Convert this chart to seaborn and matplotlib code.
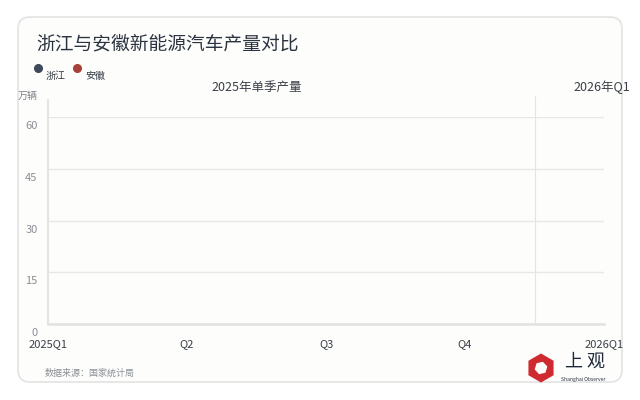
import matplotlib
matplotlib.use("Agg")
import matplotlib.pyplot as plt
import matplotlib.transforms as mtransforms
from matplotlib.patches import FancyBboxPatch, RegularPolygon
from matplotlib.lines import Line2D
import pandas as pd
import seaborn as sns

# chart data (no series values are visible in the reference frame)
quarters = ["2025Q1", "Q2", "Q3", "Q4", "2026Q1"]
series_names = ["浙江", "安徽"]
series_colors = ["#3e4a5b", "#a8403b"]
zhejiang_values = []
anhui_values = []
y_ticks = [0, 15, 30, 45, 60]

TITLE = "浙江与安徽新能源汽车产量对比"
SOURCE = "数据来源：国家统计局"

W, H = 640, 400


def px(x, y):
    return x / W, 1 - y / H


sns.set_theme(style="white")
plt.rcParams["font.family"] = ["Noto Sans CJK SC", "DejaVu Sans"]

fig = plt.figure(figsize=(6.4, 4.0), dpi=100, facecolor="white")

# pixel coords (origin top-left) -> figure
pix = mtransforms.Affine2D().scale(1 / W, -1 / H).translate(0, 1) + fig.transFigure

# card background
card = FancyBboxPatch((18, 17), 604, 365,
                      boxstyle="round,pad=0,rounding_size=12",
                      transform=pix, facecolor="#fdfdfb",
                      edgecolor="#e3e3e3", linewidth=1.2, zorder=-5)
fig.patches.append(card)

fig.text(*px(36, 44), TITLE, fontsize=13.5, color="#2b3340", va="center", ha="left")

# legend
for i, (name, col) in enumerate(zip(series_names, series_colors)):
    dx = 39 * i
    fig.add_artist(Line2D([38 + dx], [68], marker="o", markersize=5.5, color=col,
                          linestyle="none", transform=pix))
    fig.text(*px(46 + dx, 76), name, fontsize=7.2, color="#333a44", va="center", ha="left")

# plot area
left, right, top, bottom = 48, 604, 117, 324
ax = fig.add_axes([left / W, 1 - bottom / H, (right - left) / W, (bottom - top) / H])
ax.set_facecolor("none")

long_rows = []
for name, vals in zip(series_names, [zhejiang_values, anhui_values]):
    for q, v in zip(quarters, vals):
        long_rows.append({"quarter": q, "value": v, "series": name})
df = pd.DataFrame(long_rows, columns=["quarter", "value", "series"])
if len(df):
    sns.lineplot(data=df, x="quarter", y="value", hue="series",
                 palette=series_colors, ax=ax, legend=False)

ax.set_xlim(0, len(quarters) - 1)
ax.set_ylim(0, 60)
ax.set_xlabel("")
ax.set_ylabel("")

ax.set_yticks(y_ticks)
ax.set_yticklabels([str(v) for v in y_ticks], fontsize=8, color="#8a8f96")
ax.yaxis.grid(True, color="#e8e8e8", linewidth=1)
ax.set_axisbelow(True)
ax.tick_params(axis="y", length=0, pad=7.5)
ax.tick_params(axis="x", length=0, pad=11)
off = mtransforms.ScaledTranslation(0, -8 / 100, fig.dpi_scale_trans)
for lbl in ax.get_yticklabels():
    lbl.set_transform(lbl.get_transform() + off)

ax.set_xticks(range(len(quarters)))
ax.set_xticklabels(quarters, fontsize=8, color="#3a3f48")

for side in ["top", "right", "left"]:
    ax.spines[side].set_visible(False)
ax.spines["bottom"].set_color("#e2e2e2")
ax.spines["bottom"].set_linewidth(1.8)

# left axis line and 2026 separator, extending above the plot area
ax.axvline(0, ymin=0, ymax=(bottom - 100) / (bottom - top), color="#e4e4e4",
           linewidth=1.5, clip_on=False)
ax.axvline(3.5, ymin=0, ymax=(bottom - 96) / (bottom - top),
           color="#e4e4e4", linewidth=0.8, clip_on=False)

fig.text(*px(18, 96), "万辆", fontsize=7.2, color="#7c8189", va="center", ha="left")
fig.text(*px(257, 87), "2025年单季产量", fontsize=9, color="#3a3f48", va="center", ha="center")
fig.text(*px(630, 87), "2026年Q1", fontsize=9, color="#3a3f48", va="center", ha="right")

fig.text(*px(45, 373), SOURCE, fontsize=6.5, color="#8a8f96", va="center", ha="left")

# logo
fig.add_artist(RegularPolygon((541, 368), numVertices=6, radius=14.5, orientation=0.0,
                              facecolor="#cf2a2f", edgecolor="none", transform=pix))
fig.add_artist(RegularPolygon((541, 368), numVertices=6, radius=6.5, orientation=0.3,
                              facecolor="#fdfdfb", edgecolor="none", transform=pix))
fig.text(*px(585, 362), "上 观", fontsize=13, color="#1f2a3a", va="center", ha="center")
fig.text(*px(583, 379), "Shanghai Observer", fontsize=3.6, color="#2a3240", va="center", ha="center")

fig.savefig("out.png", dpi=100, facecolor="white")
